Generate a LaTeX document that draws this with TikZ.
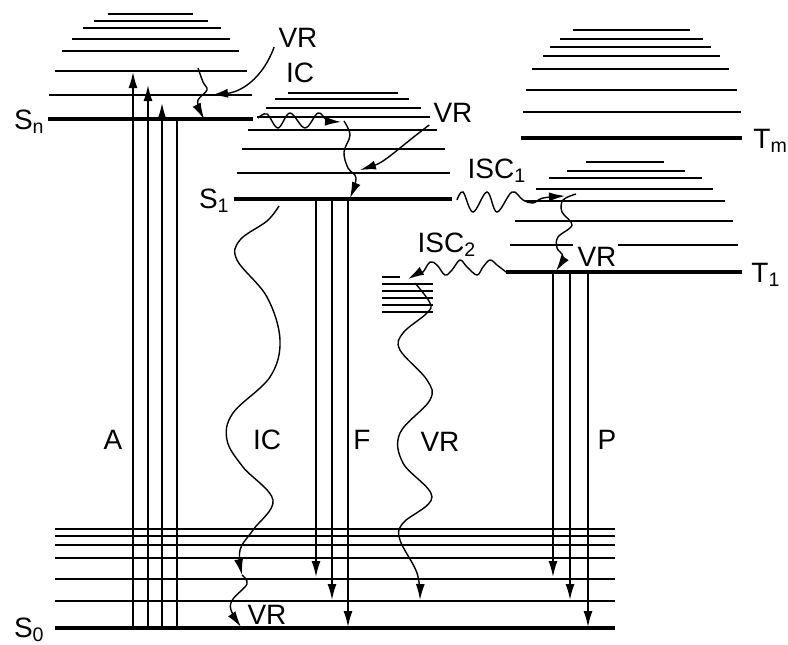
\documentclass[tikz,border=0pt]{standalone}
\usepackage{fontspec}
\setmainfont{Liberation Sans}
\usetikzlibrary{arrows.meta}

\tikzset{
  level/.style={line width=0.9pt},
  state/.style={line width=1.7pt},
  trans/.style={line width=0.8pt,-{Latex[length=8pt,width=4.5pt]}},
  relax/.style={line width=0.7pt,-{Latex[length=8pt,width=4.5pt]}},
  lbl/.style={inner sep=0pt,font=\fontsize{14}{16}\selectfont}
}

\begin{document}
\begin{tikzpicture}[x=0.5pt,y=-0.5pt]
  \useasboundingbox (0,0) rectangle (788,644);

  % ground state S0 with its vibrational levels
  \foreach \y in {529,536,545,558,579,601}
    \draw[level] (55,\y) -- (615,\y);
  \draw[state] (55,628) -- (615,628);
  \node[lbl,anchor=east] (S0) at (45,630) {S\textsubscript{0}};

  % singlet Sn
  \foreach \y/\xa/\xb in {95/49/252, 71/55/247, 51/62/239, 39/72/230,
                          28/83/221, 21/94/208, 14/108/193}
    \draw[level] (\xa,\y) -- (\xb,\y);
  \draw[state] (48,119) -- (253,119);
  \node[lbl,anchor=east] (Sn) at (45,122) {S\textsubscript{n}};

  % singlet S1
  \foreach \y/\xa/\xb in {173/237/450, 149/242/445, 130/248/437, 117/257/430,
                          108/266/421, 99/275/409, 93/288/398}
    \draw[level] (\xa,\y) -- (\xb,\y);
  \draw[state] (234,199) -- (452,199);
  \node[lbl,anchor=east] (S1) at (230,201) {S\textsubscript{1}};

  % small stack reached by ISC2
  \draw[level] (382,277) -- (400,277);
  \foreach \y in {284,291,298,305,312}
    \draw[level] (382,\y) -- (433,\y);

  % triplet T1
  \foreach \y/\xa/\xb in {221/515/733, 201/525/725, 189/536/713,
                          178/549/702, 171/567/685, 162/586/664}
    \draw[level] (\xa,\y) -- (\xb,\y);
  \draw[level] (510,245) -- (573,245);
  \draw[level] (618,245) -- (738,245);
  \draw[state] (506,272) -- (742,272);
  \node[lbl,anchor=west] (T1) at (751,275) {T\textsubscript{1}};

  % triplet Tm
  \foreach \y/\xa/\xb in {112/523/741, 90/526/737, 69/532/729, 56/543/720,
                          47/550/711, 39/560/703, 30/573/690}
    \draw[level] (\xa,\y) -- (\xb,\y);
  \draw[state] (521,138) -- (742,138);
  \node[lbl,anchor=west] (Tm) at (753,141) {T\textsubscript{m}};

  % absorption
  \foreach \x/\t [count=\i] in {133/72, 148/85, 162/103} {
    \coordinate (A\i) at (\x,628);
    \coordinate (A\i') at (\x,\t);
    \draw[trans] (A\i) -- (A\i');
  }
  \coordinate (A4) at (177,628);
  \coordinate (A4') at (177,119);
  \draw[line width=0.8pt] (A4) -- (A4');
  \node[lbl] (A) at (113,440) {A};

  % fluorescence
  \foreach \x/\t [count=\i] in {316/577, 332/600, 348/627} {
    \coordinate (F\i) at (\x,199);
    \coordinate (F\i') at (\x,\t);
    \draw[trans] (F\i) -- (F\i');
  }
  \node[lbl] (F) at (362,440) {F};

  % phosphorescence
  \foreach \x/\t [count=\i] in {553/577, 570/600, 588/627} {
    \coordinate (P\i) at (\x,272);
    \coordinate (P\i') at (\x,\t);
    \draw[trans] (P\i) -- (P\i');
  }
  \node[lbl] (P) at (607,440) {P};

  % relaxation in Sn
  \draw[relax] plot[smooth,tension=0.6] coordinates
    {(198,68) (203,82) (207,90) (198,100) (200,110) (204,119)};
  \node[lbl] (VRn) at (298,38) {VR};
  \coordinate (VRn') at (212,95);
  \draw[relax] (VRn.south west) ++(-4,-1) .. controls (262,80) and (240,92) .. (VRn');

  % internal conversion Sn -> S1
  \node[lbl] (ICn) at (300,73) {IC};
  \draw[relax] plot[smooth,tension=0.6] coordinates
    {(258,118) (267,114) (278,128) (290,113) (305,128) (318,113)
     (327,120) (341,122)};
  \draw[relax] plot[smooth,tension=0.6] coordinates
    {(344,121) (350,135) (344,152) (348,168) (356,178) (350,198)};
  \node[lbl] (VR1) at (453,113) {VR};
  \coordinate (VR1') at (360,170);
  \draw[relax] (VR1.south west) ++(-4,2) .. controls (400,147) and (385,162) .. (VR1');

  % internal conversion S1 -> S0
  \draw[relax] plot[smooth,tension=0.6] coordinates
    {(279,206) (267,221) (240,240) (237,260) (267,297) (280,340)
     (270,377) (233,413) (227,440) (243,467) (273,500) (253,530)
     (240,550) (242,575)};
  \draw[relax] plot[smooth,tension=0.6] coordinates
    {(242,575) (247,584) (233,599) (231,610) (241,627)};
  \node[lbl] (IC) at (267,440) {IC};
  \node[lbl] (VR0) at (267,615) {VR};

  % intersystem crossing S1 -> T1
  \draw[relax] plot[smooth,tension=0.6] coordinates
    {(457,200) (463,192) (473,212) (487,192) (497,212) (512,192)
     (523,200) (533,203) (543,198) (565,196)};
  \node[lbl] (ISC1) at (497,171) {ISC\textsubscript{1}};
  \draw[relax] plot[smooth,tension=0.6] coordinates
    {(576,194) (563,200) (562,212) (572,225) (558,237) (557,248)
     (563,257) (556,271)};
  \node[lbl] (VRT) at (597,257) {VR};

  % intersystem crossing T1 -> S0
  \draw[relax] plot[smooth,tension=0.6] coordinates
    {(506,272) (497,265) (490,260) (483,267) (477,275) (467,267)
     (460,260) (452,270) (445,275) (437,265) (430,262) (423,272)
     (417,274) (408,279)};
  \node[lbl] (ISC2) at (447,245) {ISC\textsubscript{2}};
  \draw[relax] plot[smooth,tension=0.6] coordinates
    {(415,283) (430,303) (427,313) (403,333) (400,350) (427,380)
     (430,400) (400,433) (403,463) (432,497) (403,523) (400,540)
     (417,573) (420,600)};
  \node[lbl] (VR) at (440,442) {VR};
\end{tikzpicture}
\end{document}
